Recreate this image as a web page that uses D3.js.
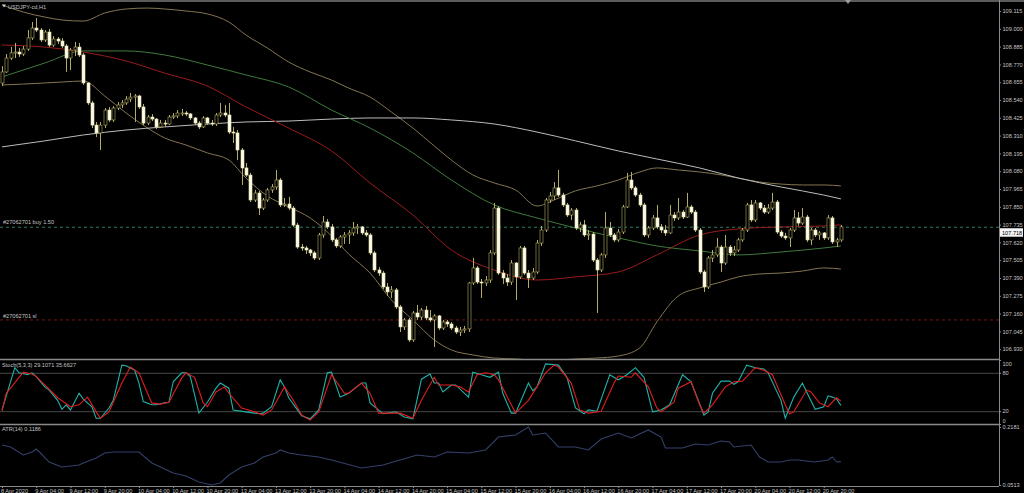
<!DOCTYPE html>
<html><head><meta charset="utf-8">
<script src="https://cdn.jsdelivr.net/npm/d3@7"></script>
<style>
html,body{margin:0;padding:0;background:#000;overflow:hidden}
svg{display:block}
text{font-family:"Liberation Sans",Arial,sans-serif;font-size:5.6px;fill:#c4c4c4}
</style></head><body>
<svg id="c" width="1024" height="493"></svg>
<script>
// ---------------- DATA ----------------
const symbolTitle = "USDJPY-cd,H1";
const firstOpen = 108.650;
const closes = [108.721,108.811,108.844,108.850,108.837,108.869,108.941,109.005,108.992,108.928,108.979,
108.895,108.934,108.921,108.889,108.811,108.863,108.882,108.831,108.650,108.521,108.378,108.327,108.378,108.475,108.411,108.488,108.508,108.521,108.546,108.559,108.566,108.495,
108.391,108.430,108.417,108.366,108.391,108.385,108.430,108.437,108.456,108.456,108.450,108.424,108.391,108.366,108.424,108.391,108.385,108.443,108.456,108.443,108.333,108.327,108.217,108.101,
108.055,107.894,107.939,107.842,107.894,107.959,107.978,108.023,107.862,107.868,107.842,107.732,107.590,107.584,107.571,107.552,107.519,107.668,107.752,107.720,
107.636,107.597,107.655,107.668,107.681,107.713,107.720,107.681,107.668,107.552,107.442,107.422,107.332,107.300,107.313,107.203,107.074,107.119,106.990,107.164,107.138,107.183,107.132,
107.119,107.145,107.067,107.106,107.093,107.067,107.041,107.054,107.061,107.358,107.455,107.364,107.358,107.377,107.552,107.842,107.422,107.390,107.364,
107.487,107.397,107.584,107.422,107.390,107.429,107.616,107.700,107.894,107.920,107.972,107.926,107.862,107.797,107.829,107.713,107.733,107.668,107.674,107.506,107.442,107.539,107.713,
107.668,107.636,107.687,107.849,108.023,107.972,107.926,107.862,107.668,107.713,107.778,107.720,107.700,107.681,107.797,107.778,107.816,107.784,107.849,107.816,107.700,107.429,107.332,107.519,107.539,107.590,107.487,107.590,
107.552,107.571,107.636,107.700,107.862,107.765,107.875,107.842,107.816,107.842,107.881,107.687,107.661,107.649,107.700,107.778,
107.745,107.784,107.636,107.700,107.668,107.681,107.649,107.778,107.623,107.636,107.720];
const highs = [108.759,108.837,108.883,108.909,108.876,108.889,108.992,109.044,109.069,109.005,108.992,
108.999,108.953,108.947,108.940,108.902,108.876,108.915,108.909,108.844,108.656,108.534,108.398,108.398,108.488,108.495,108.501,108.527,108.540,108.566,108.586,108.579,108.573,
108.514,108.443,108.449,108.423,108.411,108.411,108.443,108.456,108.475,108.482,108.469,108.456,108.430,108.404,108.436,108.430,108.411,108.456,108.521,108.508,108.521,108.366,108.346,108.230,
108.133,108.069,107.959,107.953,107.907,107.972,107.997,108.088,108.036,107.907,107.914,107.855,107.746,107.610,107.597,107.578,107.565,107.681,107.791,107.771,
107.739,107.649,107.668,107.687,107.700,107.752,107.739,107.726,107.700,107.681,107.565,107.461,107.436,107.358,107.338,107.325,107.216,107.132,107.132,107.177,107.216,107.196,107.209,
107.183,107.157,107.151,107.119,107.119,107.106,107.080,107.074,107.080,107.364,107.519,107.468,107.384,107.403,107.571,107.875,107.855,107.442,107.416,
107.506,107.493,107.597,107.597,107.442,107.455,107.636,107.726,107.907,107.946,108.010,108.088,107.940,107.875,107.842,107.842,107.752,107.765,107.700,107.687,107.519,107.552,107.816,
107.752,107.681,107.707,107.862,108.069,108.075,107.985,107.940,107.875,107.726,107.797,107.862,107.739,107.733,107.862,107.816,107.907,107.829,107.940,107.862,107.829,107.713,107.442,107.532,107.571,107.649,107.603,107.668,
107.603,107.597,107.649,107.713,107.875,107.894,107.894,107.881,107.862,107.868,107.940,107.894,107.700,107.681,107.713,107.829,
107.816,107.842,107.797,107.713,107.713,107.694,107.687,107.797,107.791,107.649,107.733];
const lows = [108.630,108.715,108.798,108.811,108.818,108.824,108.857,108.928,108.979,108.915,108.915,
108.883,108.883,108.902,108.876,108.721,108.734,108.824,108.818,108.637,108.508,108.359,108.301,108.217,108.359,108.398,108.398,108.475,108.488,108.508,108.527,108.398,108.482,
108.378,108.378,108.404,108.352,108.359,108.366,108.378,108.417,108.423,108.436,108.436,108.411,108.378,108.352,108.359,108.378,108.372,108.372,108.430,108.430,108.320,108.262,108.152,107.991,
108.043,107.881,107.881,107.797,107.829,107.881,107.940,107.959,107.849,107.849,107.829,107.720,107.578,107.565,107.545,107.532,107.506,107.506,107.649,107.707,
107.623,107.584,107.584,107.610,107.610,107.662,107.674,107.668,107.655,107.539,107.429,107.403,107.319,107.274,107.261,107.190,107.041,107.054,106.977,106.977,107.119,107.119,107.119,
107.106,106.944,107.054,107.054,107.074,107.054,107.028,107.015,107.035,107.041,107.345,107.351,107.261,107.338,107.358,107.539,107.410,107.351,107.338,
107.345,107.248,107.384,107.410,107.325,107.377,107.416,107.597,107.687,107.875,107.894,107.914,107.849,107.784,107.765,107.700,107.687,107.655,107.636,107.493,107.164,107.429,107.519,
107.655,107.623,107.623,107.674,107.842,107.959,107.914,107.849,107.655,107.649,107.700,107.707,107.681,107.662,107.674,107.759,107.765,107.771,107.778,107.804,107.687,107.416,107.300,107.319,107.493,107.526,107.429,107.474,
107.532,107.532,107.558,107.623,107.687,107.752,107.752,107.829,107.804,107.804,107.829,107.674,107.649,107.636,107.590,107.687,
107.726,107.733,107.623,107.603,107.655,107.636,107.636,107.636,107.610,107.590,107.623];

const priceTicks = [109.115,109.000,108.885,108.770,108.655,108.540,108.425,108.310,108.195,108.080,107.965,107.850,107.735,107.620,107.505,107.390,107.275,107.160,107.045,106.930];
const timeBars = [0,8,16,24,32,40,48,56,64,72,80,88,96,104,112,120,128,136,144,152,160,168,176,184,192];
const timeLabels = ["8 Apr 2020","9 Apr 04:00","9 Apr 12:00","9 Apr 20:00","10 Apr 04:00","10 Apr 12:00","10 Apr 20:00","13 Apr 04:00","13 Apr 12:00","13 Apr 20:00","14 Apr 04:00","14 Apr 12:00","14 Apr 20:00","15 Apr 04:00","15 Apr 12:00","15 Apr 20:00","16 Apr 04:00","16 Apr 12:00","16 Apr 20:00","17 Apr 04:00","17 Apr 12:00","17 Apr 20:00","20 Apr 04:00","20 Apr 12:00","20 Apr 20:00"];

const maBars = [0,10,19,29,38,48,57,67,77,86,96,105,115,125,134,144,153,163,172,182,192,196];
const maSlow = [108.237,108.276,108.314,108.346,108.366,108.385,108.398,108.404,108.417,108.424,108.424,108.411,108.385,108.333,108.276,108.211,108.159,108.101,108.036,107.978,107.926,107.901];
const maMid = [108.895,108.882,108.850,108.792,108.714,108.630,108.495,108.359,108.211,108.004,107.797,107.571,107.442,107.377,107.397,107.429,107.539,107.668,107.707,107.720,107.726,107.733];
const maFast = [108.689,108.779,108.857,108.857,108.831,108.766,108.702,108.624,108.475,108.359,108.198,108.023,107.862,107.778,107.713,107.649,107.597,107.565,107.539,107.558,107.584,107.597];

const bandBars = [0,5,10,14,19,24,29,34,38,43,48,53,57,62,67,72,77,81,86,91,96,101,105,110,115,120,125,129,134,139,144,149,153,158,163,168,172,177,182,187,192,196];
const bandUpper = [109.154,109.108,109.076,109.057,109.050,109.102,109.128,109.134,109.128,109.115,109.096,109.044,108.960,108.876,108.785,108.721,108.669,108.617,108.559,108.462,108.359,108.243,108.152,108.056,108.004,107.959,107.855,107.894,107.953,107.985,108.023,108.075,108.101,108.088,108.075,108.056,108.036,108.010,107.997,107.991,107.991,107.985];
const bandLower = [108.637,108.643,108.650,108.656,108.663,108.566,108.456,108.359,108.295,108.249,108.198,108.152,108.036,107.920,107.849,107.778,107.662,107.545,107.422,107.248,107.119,106.990,106.925,106.893,106.873,106.867,106.860,106.860,106.867,106.873,106.886,106.938,107.106,107.274,107.326,107.364,107.397,107.416,107.422,107.435,107.455,107.448];

const stochMain = [[0,22],[3,88],[4,80],[6,77],[7,80],[8,74],[10,58],[11,53],[13,37],[14,23],[15,30],[16,22],[18,48],[19,39],[21,27],[22,9],[23,9],[25,25],[26,37],[28,92],[29,91],[31,84],[32,64],[33,35],[35,30],[36,30],[38,33],[39,34],[40,66],[42,80],[43,80],[44,74],[46,17],[48,34],[50,56],[51,64],[53,56],[54,22],[57,19],[60,16],[61,17],[63,27],[65,69],[66,58],[67,41],[70,13],[72,8],[74,22],[76,80],[77,81],[79,42],[81,48],[84,64],[85,64],[86,33],[89,16],[92,19],[94,11],[96,8],[98,70],[100,78],[101,64],[102,64],[103,50],[105,61],[106,61],[109,42],[110,81],[112,77],[114,73],[116,81],[117,48],[119,17],[120,17],[123,64],[124,52],[125,58],[127,94],[130,92],[132,73],[134,25],[136,16],[137,22],[139,20],[142,77],[144,69],[146,77],[148,88],[150,73],[152,19],[154,22],[156,30],[159,77],[161,66],[164,14],[165,19],[166,48],[168,67],[170,67],[171,62],[172,66],[174,92],[176,88],[178,86],[179,80],[182,37],[183,9],[185,42],[187,64],[188,50],[190,23],[192,27],[193,44],[194,42],[195,39],[196,29.1071]];
const stochSignal = [[0,20],[1,48],[5,81],[7,78],[8,74],[10,61],[13,41],[16,27],[18,30],[20,42],[22,19],[23,9],[25,19],[28,64],[30,89],[32,80],[34,48],[35,33],[37,31],[39,34],[42,72],[43,80],[45,73],[47,33],[48,27],[50,50],[52,58],[53,48],[56,25],[59,19],[61,14],[63,22],[66,58],[68,38],[70,14],[72,6],[74,19],[77,77],[80,48],[81,48],[84,64],[86,48],[88,17],[93,17],[96,9],[98,37],[101,73],[102,61],[105,61],[107,58],[109,50],[111,77],[113,80],[115,77],[116,69],[119,30],[120,17],[123,37],[125,58],[127,80],[129,92],[130,89],[133,64],[135,22],[137,17],[140,20],[143,64],[144,75],[147,73],[148,80],[151,58],[153,25],[154,19],[157,34],[158,56],[161,66],[163,30],[164,17],[166,30],[169,58],[171,66],[173,67],[175,81],[176,88],[178,84],[180,77],[183,30],[184,16],[185,19],[188,53],[189,50],[191,33],[193,27],[194,34],[195,41],[196,35.6627]];
const stochLevels = [80,20];
const stochTicks = [100,80,20,0];

const atrSeries = [[0,0.1663],[2,0.1606],[5,0.1376],[7,0.1462],[8,0.1548],[9,0.1433],[11,0.1174],[14,0.1031],[18,0.1088],[19,0.1146],[22,0.1290],[24,0.1433],[26,0.1462],[29,0.1462],[32,0.1462],[35,0.1146],[40,0.0858],[43,0.0772],[46,0.0599],[49,0.0513],[51,0.0571],[53,0.0801],[56,0.1031],[59,0.1146],[61,0.1318],[64,0.1433],[65,0.1520],[67,0.1433],[70,0.1376],[74,0.1318],[77,0.1232],[84,0.1002],[89,0.1088],[93,0.1232],[97,0.1376],[101,0.1318],[104,0.1462],[109,0.1433],[113,0.1520],[116,0.1893],[120,0.1951],[123,0.2181],[124,0.1951],[127,0.2009],[130,0.1606],[134,0.1606],[137,0.1520],[140,0.1836],[144,0.2009],[147,0.1865],[151,0.2095],[154,0.1893],[155,0.1577],[159,0.1577],[162,0.1692],[165,0.1663],[168,0.1778],[170,0.1750],[171,0.1606],[175,0.1663],[177,0.1318],[179,0.1174],[182,0.1174],[184,0.1232],[186,0.1232],[190,0.1174],[193,0.1232],[194,0.1318],[195,0.1174],[196,0.1186]];
const atrRange = [0.0513, 0.2181];

const orderPrice = 107.718;
const slPrice = 107.119;
const bidPrice = 107.718;

// ---------------- LAYOUT ----------------
const svg = d3.select("#c");
const axisX = 999;
const mainTop = 3, mainBot = 359, stTop = 360, stBot = 424, atrBot = 486;
const nBars = closes.length;
const x = d3.scaleLinear().domain([0, nBars - 1]).range([2, 2 + (nBars - 1) * 4.28]);
const y = d3.scaleLinear().domain([106.93, 109.115]).range([349.2, 11]);
const yS = d3.scaleLinear().domain([0, 100]).range([stBot, stTop]);
const yA = d3.scaleLinear().domain(atrRange).range([485, 427]);
const gray = "#8a8a8a";

svg.append("rect").attr("width",1024).attr("height",493).attr("fill","#000");

const defs = svg.append("defs");
defs.append("clipPath").attr("id","cm").append("rect").attr("x",0).attr("y",mainTop).attr("width",axisX).attr("height",mainBot-mainTop);
defs.append("clipPath").attr("id","cs").append("rect").attr("x",0).attr("y",stTop+1).attr("width",axisX).attr("height",stBot-stTop-1);
defs.append("clipPath").attr("id","ca").append("rect").attr("x",0).attr("y",stBot+1).attr("width",axisX).attr("height",atrBot-stBot-1);

// frame lines
svg.append("line").attr("x1",0).attr("x2",1024).attr("y1",1).attr("y2",1).attr("stroke","#7a7a7a").attr("stroke-width",1.5);
svg.append("path").attr("d","M845,0L851,0L848,4Z").attr("fill","#9a9a9a");
[stTop - 0.5, stBot + 0.5].forEach(v => svg.append("line").attr("x1",0).attr("x2",axisX).attr("y1",v).attr("y2",v).attr("stroke",gray).attr("stroke-width",1.5));
svg.append("line").attr("x1",axisX+0.5).attr("x2",axisX+0.5).attr("y1",0).attr("y2",atrBot).attr("stroke",gray);

// ---------------- MAIN PANEL ----------------
const gm = svg.append("g").attr("clip-path","url(#cm)");
gm.append("line").attr("x1",0).attr("x2",axisX).attr("y1",y(orderPrice)).attr("y2",y(orderPrice))
  .attr("stroke","#2e7f5a").attr("stroke-dasharray","3,3");
gm.append("line").attr("x1",0).attr("x2",axisX).attr("y1",y(slPrice)).attr("y2",y(slPrice))
  .attr("stroke","#7a1616").attr("stroke-dasharray","3,3");

function drawLine(g, bars, vals, color, sx, sy, curve) {
  const pts = bars.map((b, i) => [b, vals[i]]);
  g.append("path").datum(pts)
    .attr("d", d3.line().x(d => sx(d[0])).y(d => sy(d[1])).curve(curve || d3.curveLinear))
    .attr("fill","none").attr("stroke",color).attr("stroke-width",1);
}
drawLine(gm, bandBars, bandUpper, "#857552", x, y, d3.curveMonotoneX);
drawLine(gm, bandBars, bandLower, "#857552", x, y, d3.curveMonotoneX);
drawLine(gm, maBars, maSlow, "#bcbcbc", x, y, d3.curveMonotoneX);
drawLine(gm, maBars, maMid, "#9a1c1c", x, y, d3.curveMonotoneX);
drawLine(gm, maBars, maFast, "#3f7a3c", x, y, d3.curveMonotoneX);

// candles
const opens = closes.map((c, i) => i === 0 ? firstOpen : closes[i - 1]);
const candles = closes.map((c, i) => ({i, o: opens[i], h: highs[i], l: lows[i], c}));
const cg = gm.append("g");
cg.selectAll("line.w").data(candles).join("line")
  .attr("x1", d => Math.round(x(d.i)) + 0.5).attr("x2", d => Math.round(x(d.i)) + 0.5)
  .attr("y1", d => y(d.h)).attr("y2", d => y(d.l))
  .attr("stroke","#b3ab66").attr("stroke-width",1);
cg.selectAll("rect.b").data(candles).join("rect")
  .attr("x", d => Math.round(x(d.i)) - 1)
  .attr("width", 3)
  .attr("y", d => y(Math.max(d.o, d.c)))
  .attr("height", d => Math.max(1, Math.abs(y(d.o) - y(d.c))))
  .attr("fill", d => d.c >= d.o ? "#000" : "#fcfbe6")
  .attr("stroke", d => d.c >= d.o ? "#b3ab66" : "#e8e4b8")
  .attr("stroke-width", 0.6);

// labels
svg.append("path").attr("d","M2,4.5L6,4.5L4,7.5Z").attr("fill","#d0d0d0");
svg.append("text").attr("x",8).attr("y",8.5).text(symbolTitle);
svg.append("text").attr("x",3).attr("y",y(orderPrice)-3).text("#27062701 buy 1.50");
svg.append("text").attr("x",3).attr("y",y(slPrice)-2).text("#27062701 sl");

// price axis
const ay = svg.append("g").attr("transform",`translate(${axisX},0)`)
  .call(d3.axisRight(y).tickValues(priceTicks).tickFormat(d3.format(".3f")).tickSize(2).tickPadding(1.5));
ay.select(".domain").remove();
ay.selectAll("line").attr("stroke",gray);
ay.selectAll("text").attr("fill","#c4c4c4").style("font-size","5.6px").style("font-family","Liberation Sans, Arial, sans-serif");

// bid box (placed just under the price line so the scale label above stays readable)
const by = y(bidPrice);
svg.append("rect").attr("x",axisX+1).attr("y",by+1).attr("width",23).attr("height",8.5).attr("fill","#f4f4f4");
svg.append("text").attr("x",axisX+3).attr("y",by+7.3).style("fill","#000").text(d3.format(".3f")(bidPrice));

// ---------------- STOCH PANEL ----------------
const gs = svg.append("g").attr("clip-path","url(#cs)");
stochLevels.forEach(v => gs.append("line").attr("x1",0).attr("x2",axisX).attr("y1",yS(v)+0.5).attr("y2",yS(v)+0.5).attr("stroke","#484848"));
function drawPairs(g, pts, color, sx, sy) {
  g.append("path").datum(pts).attr("d", d3.line().x(d => sx(d[0])).y(d => sy(d[1])))
    .attr("fill","none").attr("stroke",color).attr("stroke-width",1.1);
}
drawPairs(gs, stochMain, "#20b2aa", x, yS);
drawPairs(gs, stochSignal, "#e01e1e", x, yS);
svg.append("text").attr("x",2).attr("y",stTop+6.5)
  .text(`Stoch(5,3,3) ${stochMain[stochMain.length-1][1].toFixed(4)} ${stochSignal[stochSignal.length-1][1].toFixed(4)}`);
const as = svg.append("g").attr("transform",`translate(${axisX},0)`)
  .call(d3.axisRight(yS).tickValues(stochTicks).tickFormat(d3.format("d")).tickSize(2).tickPadding(1.5));
as.select(".domain").remove();
as.selectAll("line").attr("stroke",gray);
as.selectAll("text").attr("fill","#c4c4c4").style("font-size","5.6px")
  .attr("dy", d => d === 100 ? "0.95em" : d === 0 ? "-0.2em" : "0.32em");

// ---------------- ATR PANEL ----------------
const ga = svg.append("g").attr("clip-path","url(#ca)");
drawPairs(ga, atrSeries, "#34406a", x, yA);
svg.append("text").attr("x",2).attr("y",stBot+7).text(`ATR(14) ${atrSeries[atrSeries.length-1][1].toFixed(4)}`);
const aa = svg.append("g").attr("transform",`translate(${axisX},0)`)
  .call(d3.axisRight(yA).tickValues(atrRange).tickFormat(d3.format(".4f")).tickSize(2).tickPadding(1.5));
aa.select(".domain").remove();
aa.selectAll("line").attr("stroke",gray);
aa.selectAll("text").attr("fill","#c4c4c4").style("font-size","5.6px");

// ---------------- TIME AXIS ----------------
const at = svg.append("g").attr("transform",`translate(0,${atrBot})`)
  .call(d3.axisBottom(x).tickValues(timeBars).tickFormat((d, i) => timeLabels[i]).tickSize(2).tickPadding(1));
at.select(".domain").attr("stroke",gray).attr("d",`M0,0.5H${axisX}`);
at.selectAll("line").attr("stroke",gray);
at.selectAll("text").attr("text-anchor","start").attr("x",-1.5).attr("fill","#c4c4c4").style("font-size","5.6px");
</script>
</body></html>
